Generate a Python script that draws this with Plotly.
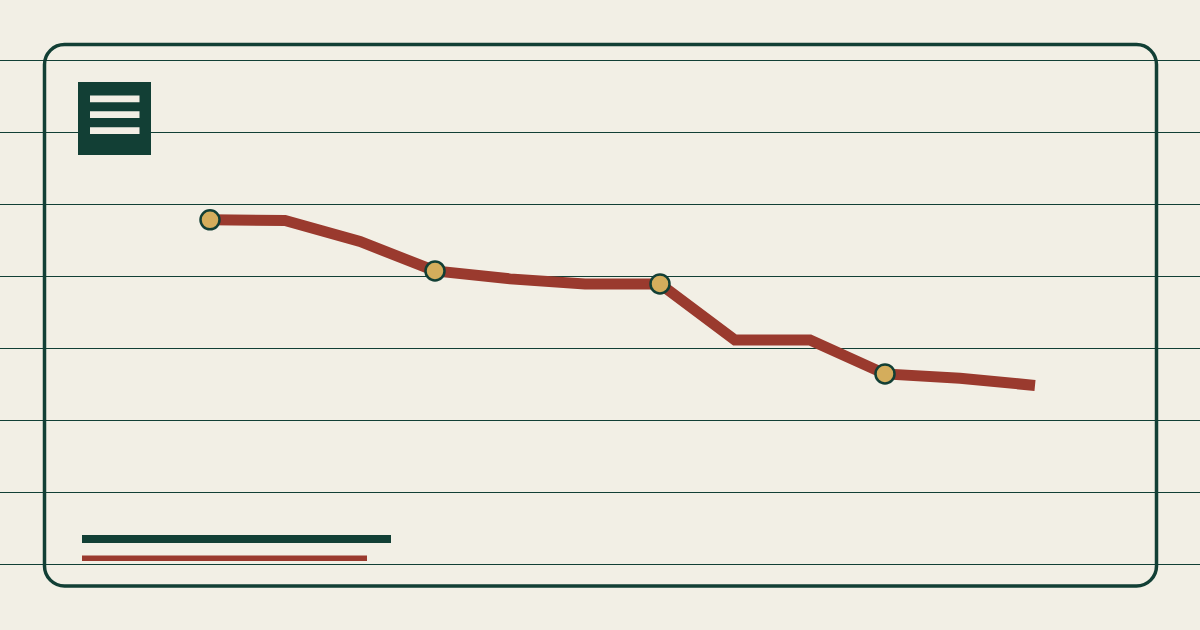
import plotly.graph_objects as go

W, H = 1200, 630
BG = "#f2efe5"
GREEN = "#123f35"
RED = "#9a3a2e"
GOLD = "#d4ad5c"

# Data
categories = list(range(12))
values = [47.8, 47.7, 44.8, 40.7, 39.6, 38.9, 38.9, 31.1, 31.1, 26.4, 25.8, 24.8]
marker_idx = [0, 3, 6, 9]

fig = go.Figure()
fig.add_trace(go.Scatter(
    x=categories, y=values, mode="lines",
    line=dict(color=RED, width=11), hoverinfo="skip", showlegend=False))
fig.add_trace(go.Scatter(
    x=[categories[i] for i in marker_idx], y=[values[i] for i in marker_idx],
    mode="markers",
    marker=dict(size=19, color=GOLD, line=dict(color=GREEN, width=2.5)),
    hoverinfo="skip", showlegend=False))


def px(x):
    return x / W


def py(y):
    return 1 - y / H


shapes = []
# rounded border
x0, y0, x1, y1, r = 44.5, 44.5, 1156.5, 586, 20
k = 0.45
path = (f"M {px(x0+r)},{py(y0)} L {px(x1-r)},{py(y0)} "
        f"C {px(x1-r*k)},{py(y0)} {px(x1)},{py(y0+r*k)} {px(x1)},{py(y0+r)} "
        f"L {px(x1)},{py(y1-r)} "
        f"C {px(x1)},{py(y1-r*k)} {px(x1-r*k)},{py(y1)} {px(x1-r)},{py(y1)} "
        f"L {px(x0+r)},{py(y1)} "
        f"C {px(x0+r*k)},{py(y1)} {px(x0)},{py(y1-r*k)} {px(x0)},{py(y1-r)} "
        f"L {px(x0)},{py(y0+r)} "
        f"C {px(x0)},{py(y0+r*k)} {px(x0+r*k)},{py(y0)} {px(x0+r)},{py(y0)} Z")
shapes.append(dict(type="path", xref="paper", yref="paper", path=path,
                   line=dict(color=GREEN, width=3.5), fillcolor="rgba(0,0,0,0)", layer="above"))


def rect(xa, ya, xb, yb, color):
    shapes.append(dict(type="rect", xref="paper", yref="paper",
                       x0=px(xa), x1=px(xb), y0=py(ya), y1=py(yb),
                       fillcolor=color, line=dict(width=0), layer="above"))


# menu icon
rect(78, 82, 151, 155, GREEN)
rect(90, 95.5, 139.5, 102.2, BG)
rect(90, 111.3, 139.5, 118, BG)
rect(90, 127.2, 139.5, 134, BG)
# bottom bars
rect(82, 535, 391, 543, GREEN)
rect(82, 555.5, 367, 561, RED)

fig.update_layout(
    width=W, height=H, margin=dict(l=0, r=0, t=0, b=0),
    paper_bgcolor=BG, plot_bgcolor=BG, shapes=shapes,
    xaxis=dict(range=[-2.8, 13.2], showgrid=False, zeroline=False, showticklabels=False,
               ticks="", fixedrange=True),
    yaxis=dict(range=[-9.1667, 78.3333], dtick=10, tick0=0, showgrid=True,
               gridcolor=GREEN, gridwidth=1, zeroline=False, showticklabels=False,
               ticks="", fixedrange=True),
)

fig.write_html("out.html", config={"displayModeBar": False},
               post_script="document.body.style.margin='0';document.body.style.background='%s';" % BG)
